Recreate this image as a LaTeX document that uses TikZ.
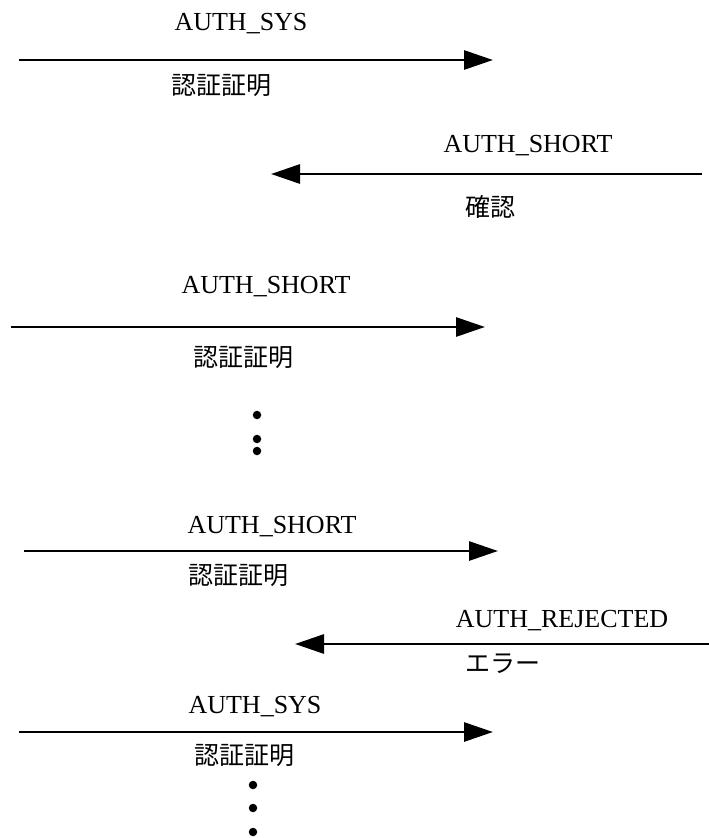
\documentclass[tikz,border=0pt]{standalone}
\usepackage{fontspec}
\setmainfont{Liberation Serif}
\newfontfamily\jpfont{Noto Sans CJK JP}
\usetikzlibrary{arrows.meta}
\tikzset{
  msg/.style={line width=2.9pt, -{Triangle[length=29pt,width=19pt]}},
  lbl/.style={font=\fontsize{26}{30}\selectfont, inner sep=0pt, anchor=base},
  jp/.style={font=\fontsize{25}{30}\selectfont\jpfont, inner sep=0pt, anchor=base},
  dotnode/.style={circle, fill=black, inner sep=0pt, minimum size=8.5pt}
}
\begin{document}
\begin{tikzpicture}[x=1pt,y=-1pt]
\useasboundingbox (0,0) rectangle (709,838);
% message 1
\coordinate (m1s) at (19,60);
\coordinate (m1e) at (493,60);
\draw[msg] (m1s) -- (m1e);
\node[lbl] (t1) at (241,30) {AUTH\_SYS};
\node[jp] (j1) at (221,94) {認証証明};
% message 2
\coordinate (m2s) at (702,174);
\coordinate (m2e) at (271,174);
\draw[msg] (m2s) -- (m2e);
\node[lbl] (t2) at (528,152) {AUTH\_SHORT};
\node[jp] (j2) at (490,216) {確認};
% message 3
\coordinate (m3s) at (11,327);
\coordinate (m3e) at (485,327);
\draw[msg] (m3s) -- (m3e);
\node[lbl] (t3) at (266,293) {AUTH\_SHORT};
\node[jp] (j3) at (243,366) {認証証明};
% dots
\node[dotnode] (d1) at (257,415) {};
\node[dotnode] (d2) at (257,439) {};
\node[dotnode] (d3) at (257,451) {};
% message 4
\coordinate (m4s) at (24,551);
\coordinate (m4e) at (498,551);
\draw[msg] (m4s) -- (m4e);
\node[lbl] (t4) at (272,533) {AUTH\_SHORT};
\node[jp] (j4) at (238,584) {認証証明};
% message 5
\coordinate (m5s) at (709,644);
\coordinate (m5e) at (295,644);
\draw[msg] (m5s) -- (m5e);
\node[lbl] (t5) at (562,627) {AUTH\_REJECTED};
\node[jp] (j5) at (503,672) {エラー};
% message 6
\coordinate (m6s) at (19,732);
\coordinate (m6e) at (493,732);
\draw[msg] (m6s) -- (m6e);
\node[lbl] (t6) at (255,713) {AUTH\_SYS};
\node[jp] (j6) at (244,764) {認証証明};
% dots
\node[dotnode] (d4) at (253,785) {};
\node[dotnode] (d5) at (253,808) {};
\node[dotnode] (d6) at (253,832) {};
\end{tikzpicture}
\end{document}
